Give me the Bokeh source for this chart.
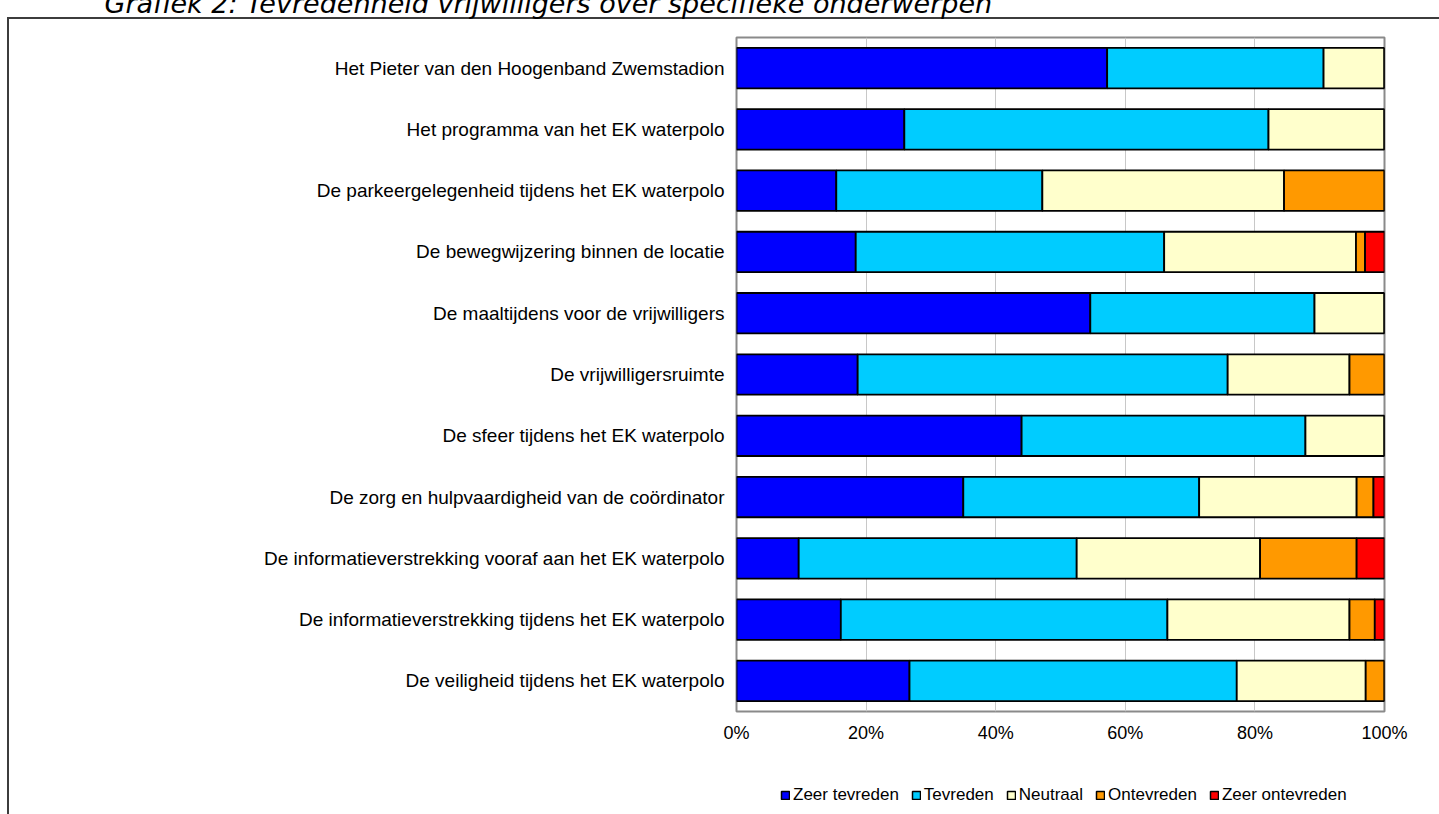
from bokeh.plotting import figure
from bokeh.layouts import column
from bokeh.models import (ColumnDataSource, FactorRange, Range1d, FixedTicker, PrintfTickFormatter,
                          Legend, LegendItem)
from bokeh.embed import file_html
from bokeh.resources import INLINE

title_text = "Grafiek 2: Tevredenheid vrijwilligers over specifieke onderwerpen"

items = [
    "Het Pieter van den Hoogenband Zwemstadion",
    "Het programma van het EK waterpolo",
    "De parkeergelegenheid tijdens het EK waterpolo",
    "De bewegwijzering binnen de locatie",
    "De maaltijdens voor de vrijwilligers",
    "De vrijwilligersruimte",
    "De sfeer tijdens het EK waterpolo",
    "De zorg en hulpvaardigheid van de coördinator",
    "De informatieverstrekking vooraf aan het EK waterpolo",
    "De informatieverstrekking tijdens het EK waterpolo",
    "De veiligheid tijdens het EK waterpolo",
]

series_names = ["Zeer tevreden", "Tevreden", "Neutraal", "Ontevreden", "Zeer ontevreden"]
zeer_tevreden   = [57.2, 25.9, 15.4, 18.4, 54.6, 18.7, 44.0, 35.0,  9.6, 16.1, 26.7]
tevreden        = [33.4, 56.2, 31.8, 47.6, 34.6, 57.1, 43.8, 36.4, 42.9, 50.4, 50.5]
neutraal        = [ 9.4, 17.9, 37.3, 29.6, 10.8, 18.8, 12.2, 24.3, 28.3, 28.1, 19.9]
ontevreden      = [ 0.0,  0.0, 15.5,  1.4,  0.0,  5.4,  0.0,  2.6, 14.9,  3.9,  2.9]
zeer_ontevreden = [ 0.0,  0.0,  0.0,  3.0,  0.0,  0.0,  0.0,  1.7,  4.3,  1.5,  0.0]

x_ticks = [0, 20, 40, 60, 80, 100]
colors = ["#0000FF", "#00CCFF", "#FFFFCC", "#FF9900", "#FF0000"]

label_font = "Liberation Sans"
T = 80  # part of the canvas pushed above the page top (title is cut, as in the reference)
line_css = "linear-gradient(#3c3c3c, #3c3c3c)"

source = ColumnDataSource(dict(
    item=items,
    s0=zeer_tevreden, s1=tevreden, s2=neutraal, s3=ontevreden, s4=zeer_ontevreden,
))
stackers = ["s0", "s1", "s2", "s3", "s4"]

p = figure(
    title=title_text,
    y_range=FactorRange(factors=list(reversed(items))),
    x_range=Range1d(0, 100),
    frame_width=648, frame_height=674,
    min_border_left=736, min_border_right=55, min_border_top=37 + T, min_border_bottom=40,
    output_backend="svg", toolbar_location=None,
)
p.styles = {
    "margin-top": f"-{T}px",
    "background": (f"{line_css} 7px {17 + T}px / 2px 3000px no-repeat, "
                   f"{line_css} 7px {17 + T}px / 3000px 2px no-repeat, white"),
}
p.background_fill_color = "white"
p.border_fill_alpha = 0
p.outline_line_color = "#8a8a8a"
p.outline_line_width = 2

p.title.align = "left"
p.title.offset = 104 - 736
p.title.standoff = 38
p.title.vertical_align = "bottom"
p.title.text_font = "DejaVu Sans"
p.title.text_font_style = "italic"
p.title.text_font_size = "27px"
p.title.text_color = "black"

p.hbar_stack(stackers, y="item", height=0.66,
             color=colors, line_color="black", line_width=1.8, source=source)

p.ygrid.grid_line_color = None
p.xgrid.grid_line_color = "#c8c8c8"
p.xgrid.grid_line_width = 1
p.xgrid.ticker = FixedTicker(ticks=x_ticks)

xa = p.xaxis[0]
xa.ticker = FixedTicker(ticks=x_ticks)
xa.formatter = PrintfTickFormatter(format="%d%%")
xa.axis_line_color = None
xa.major_tick_line_color = None
xa.minor_tick_line_color = None
xa.major_tick_in = 0
xa.major_tick_out = 0
xa.minor_tick_in = 0
xa.minor_tick_out = 0
xa.major_label_standoff = 11
xa.major_label_text_font = label_font
xa.major_label_text_font_size = "18px"
xa.major_label_text_color = "black"

ya = p.yaxis[0]
ya.axis_line_color = None
ya.major_tick_line_color = None
ya.minor_tick_line_color = None
ya.major_tick_in = 0
ya.major_tick_out = 0
ya.major_label_standoff = 12
ya.major_label_text_font = label_font
ya.major_label_text_font_size = "19px"
ya.major_label_text_color = "black"

# --- legend strip below the chart (frame aligned with the chart's frame) ---
# The same stacked bars exist here only as hidden renderers, so that the
# legend has real glyphs to draw its colour keys from.
lfig = figure(height=63, width=1439, x_range=Range1d(200, 300),
              y_range=FactorRange(factors=list(reversed(items))),
              min_border_left=736, min_border_right=55, min_border_top=0, min_border_bottom=0,
              x_axis_location=None, y_axis_location=None,
              output_backend="svg", toolbar_location=None)
lfig.styles = {"background": f"{line_css} 7px 0px / 2px 3000px no-repeat, white"}
lfig.outline_line_color = None
lfig.grid.grid_line_color = None
lfig.background_fill_alpha = 0
lfig.border_fill_alpha = 0

legend_renderers = lfig.hbar_stack(stackers, y="item", height=0.66, color=colors,
                                   line_color="black", line_width=1.5, source=source)
for r in legend_renderers:
    r.visible = False

legend = Legend(
    items=[LegendItem(label=n, renderers=[r]) for n, r in zip(series_names, legend_renderers)],
    orientation="horizontal",
    location=(44, 9),
    glyph_width=10, glyph_height=10,
    label_standoff=3, spacing=12, padding=0, margin=0,
    border_line_color=None, background_fill_alpha=0,
    inactive_fill_alpha=0,
    label_text_font=label_font, label_text_font_size="17px", label_text_color="black",
)
lfig.add_layout(legend, "center")

layout = column(p, lfig, spacing=0)
open("out.html", "w").write(file_html(layout, INLINE))
